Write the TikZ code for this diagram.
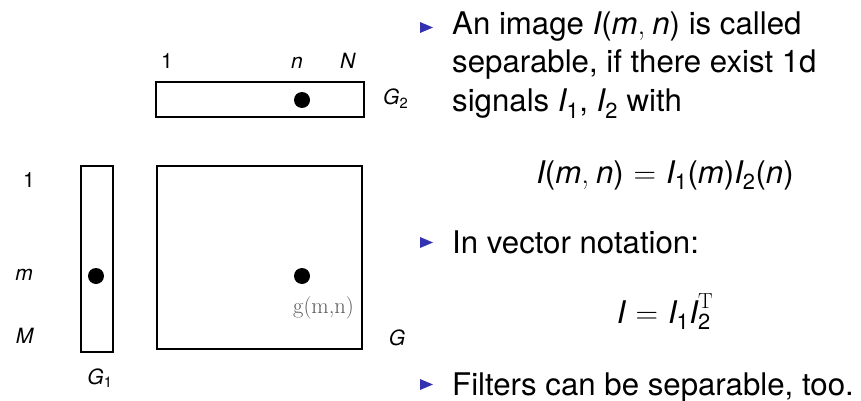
\documentclass[tikz,border=0pt]{standalone}
\usepackage{amsmath}
\usepackage{fontspec}
\setsansfont{TeX Gyre Heros}
\definecolor{bulletblue}{rgb}{0.2,0.2,0.7}
\definecolor{labgray}{gray}{0.35}
\newcommand{\vi}[1]{\textit{#1}}
\newcommand{\sbs}[1]{\textsubscript{#1}}
\newcommand{\mv}[1]{\text{\itshape #1}}
\newcommand{\mt}[1]{\text{#1}}
\newcommand{\meq}{\mathord{\text{\hspace{0.32em}{\rmfamily =}\hspace{0.32em}}}}
\newcommand{\mcm}{\mathord{\text{{\rmfamily ,}\hspace{0.22em}}}}
\begin{document}
\begin{tikzpicture}[x=1pt,y=-1pt,
  boxst/.style={draw,line width=1.8pt,inner sep=0pt},
  dotst/.style={circle,fill=black,inner sep=0pt,minimum size=16pt},
  lab/.style={font=\sffamily\fontsize{21}{24}\selectfont,inner sep=0pt,anchor=base},
  txt/.style={font=\sffamily\fontsize{31.2}{38}\selectfont,inner sep=0pt,anchor=base west},
  eqn/.style={font=\sffamily\fontsize{31.2}{38}\selectfont,inner sep=0pt,anchor=base},
  bul/.style={fill=bulletblue}]
\useasboundingbox (0,0) rectangle (861,401);
% boxes
\node[boxst,minimum width=208pt,minimum height=35pt] (g2) at (260,99.5) {};
\node[boxst,minimum width=32pt,minimum height=186pt] (g1) at (97,259) {};
\node[boxst,minimum width=205pt,minimum height=183pt] (g) at (259.5,257.5) {};
% dots
\node[dotst] (d2) at (302,100) {};
\node[dotst] (d1) at (96,276) {};
\node[dotst] (dg) at (302,276) {};
\node[font=\rmfamily\fontsize{22.5}{26}\selectfont,text=labgray,inner sep=0pt,anchor=base west] (gmn) at (293,313) {g(m,n)};
% labels
\node[lab] (t1) at (167,69) {1};
\node[lab] (tn) at (297,69) {\vi{n}};
\node[lab] (tN) at (348,69) {\vi{N}};
\node[lab,anchor=base west] (lg2) at (383,105) {\vi{G}\sbs{2}};
\node[lab] (l1) at (29,187) {1};
\node[lab] (lm) at (24,280) {\vi{m}};
\node[lab] (lM) at (25,343) {\vi{M}};
\node[lab] (lG) at (397,345) {\vi{G}};
\node[lab] (lg1) at (100,384) {\vi{G}\sbs{1}};
% bullets
\fill[bul] (420,22) -- (420,33) -- (433,27.5) -- cycle;
\fill[bul] (420,237) -- (420,248) -- (433,242.5) -- cycle;
\fill[bul] (420,379) -- (420,390) -- (433,384.5) -- cycle;
% text
\node[txt] (a1) at (452,35) {An image $\mv{I}\mt{(}\mv{m}\mcm\mv{n}\mt{)}$ is called};
\node[txt] (a2) at (452,73) {separable, if there exist 1d};
\node[txt] (a3) at (452,112) {signals $\mv{I}_{\mt{1}}$, $\mv{I}_{\mt{2}}$ with};
\node[eqn] (e1) at (665,183) {$\mv{I}\mt{(}\mv{m}\mcm\mv{n}\mt{)}\meq\mv{I}_{\mt{1}}\mt{(}\mv{m}\mt{)}\mv{I}_{\mt{2}}\mt{(}\mv{n}\mt{)}$};
\node[txt] (b1) at (452,253) {In vector notation:};
\node[eqn] (e2) at (665,323) {$\mv{I}\meq\mv{I}_{\mt{1}}\mv{I}_{\mt{2}}^{\mathrm{T}}$};
\node[txt] (c1) at (452,395) {Filters can be separable, too.};
\end{tikzpicture}
\end{document}
